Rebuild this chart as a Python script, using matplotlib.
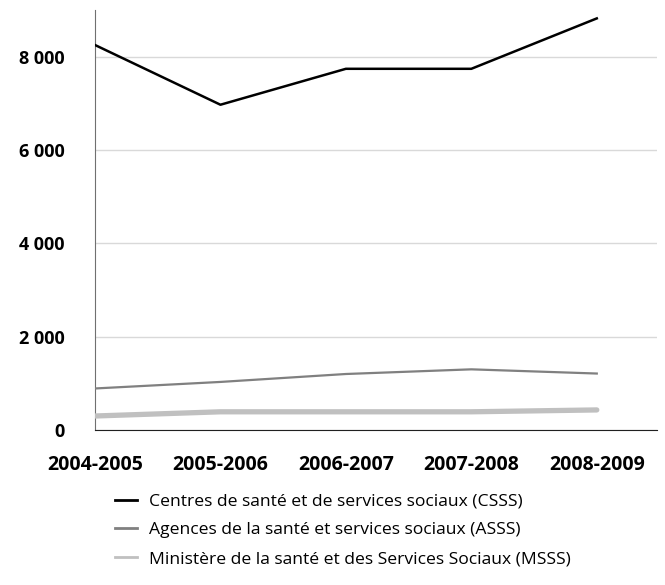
import matplotlib.pyplot as plt
from matplotlib.lines import Line2D
from matplotlib.ticker import FuncFormatter

# Effectifs par type d'etablissement
annees = ['2004-2005', '2005-2006', '2006-2007', '2007-2008', '2008-2009']
csss = [8250, 6970, 7740, 7740, 8820]
asss = [890, 1030, 1200, 1300, 1210]
msss = [300, 390, 390, 390, 430]
noms = ['Centres de santé et de services sociaux (CSSS)',
        'Agences de la santé et services sociaux (ASSS)',
        'Ministère de la santé et des Services Sociaux (MSSS)']

plt.rcParams['font.family'] = ['Open Sans', 'DejaVu Sans']

fig = plt.figure(figsize=(6.65, 5.85), dpi=100)
ax = fig.add_axes([95/665, 1-430/585, 562/665, 420/585])

x = range(len(annees))
ax.plot(x, msss, color='#c0c0c0', lw=3.8, solid_capstyle='round', zorder=3)
ax.plot(x, asss, color='#808080', lw=1.6, zorder=4)
ax.plot(x, csss, color='black', lw=1.8, zorder=5)

ax.set_xlim(0, 4.48)
ax.set_ylim(0, 9000)
ax.set_yticks([0, 2000, 4000, 6000, 8000])
ax.yaxis.set_major_formatter(FuncFormatter(lambda v, p: f'{int(v):,}'.replace(',', ' ')))
ax.set_xticks(list(x))
ax.set_xticklabels(annees)
ax.tick_params(axis='both', length=0)
ax.tick_params(axis='y', pad=22, labelsize=13)
ax.tick_params(axis='x', pad=18, labelsize=14)
for lab in ax.get_xticklabels() + ax.get_yticklabels():
    lab.set_fontweight('bold')

ax.grid(axis='y', color='#d9d9d9', lw=1)
ax.set_axisbelow(True)
for s in ['top', 'right']:
    ax.spines[s].set_visible(False)
ax.spines['left'].set_color('#707070')
ax.spines['bottom'].set_color('#202020')

handles = [Line2D([], [], color='black', lw=2),
           Line2D([], [], color='#808080', lw=2),
           Line2D([], [], color='#c0c0c0', lw=2)]
fig.legend(handles, noms, loc='upper left', bbox_to_anchor=(99/665, 1-478/585),
           frameon=False, fontsize=12.6, handlelength=1.25, handletextpad=0.7,
           labelspacing=0.7)

fig.savefig('out.png', dpi=100)
